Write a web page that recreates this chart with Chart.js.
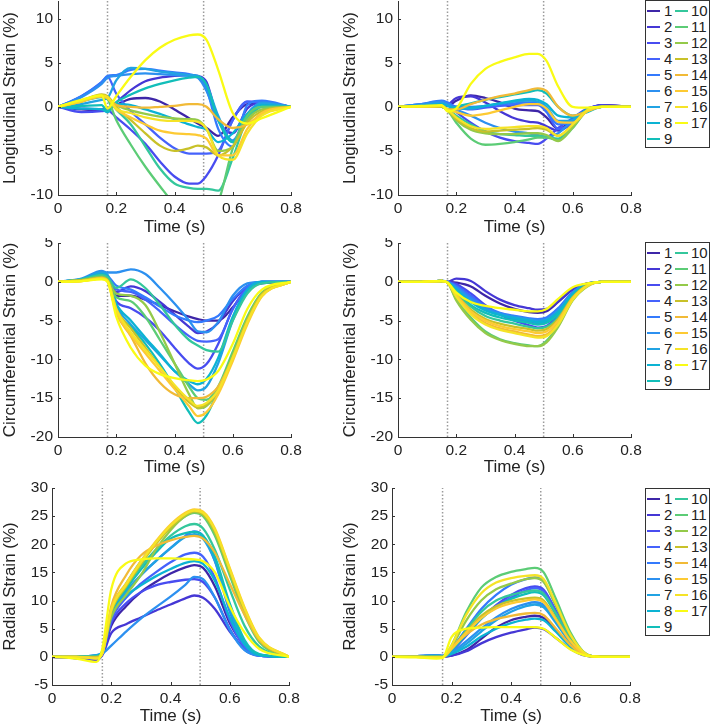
<!DOCTYPE html>
<html>
<head>
<meta charset="utf-8">
<script src="https://cdn.jsdelivr.net/npm/chart.js@4.4.1/dist/chart.umd.min.js"></script>
<style>
  body { margin: 0; background: #fff; width: 710px; height: 727px; position: relative; overflow: hidden;
         font-family: "Liberation Sans", Arial, sans-serif; }
  canvas { position: absolute; }
  .legend { position: absolute; left: 645px; width: 63px; height: 146px; border: 1px solid #333; background: #fff; }
  .legend .sw { position: absolute; width: 13px; height: 2.5px; }
  .legend .lb { position: absolute; font-size: 15px; line-height: 18px; color: #222; }
</style>
</head>
<body>
<script>
// sample times (s)
const times = [0, 0.08, 0.15, 0.17, 0.2, 0.25, 0.3, 0.35, 0.4, 0.45, 0.48, 0.51, 0.55, 0.6, 0.65, 0.7, 0.8];
const eventTimes = [0.17, 0.5];
const segLabels = ['1','2','3','4','5','6','7','8','9','10','11','12','13','14','15','16','17'];

const xTicks = [0, 0.2, 0.4, 0.6, 0.8];
const xTickLabels = ['0', '0.2', '0.4', '0.6', '0.8'];
const longTicks = [-10, -5, 0, 5, 10];
const circTicks = [-20, -15, -10, -5, 0, 5];
const radTicks = [-5, 0, 5, 10, 15, 20, 25, 30];
const longRange = [-10, 12];
const circRange = [-20, 5];
const radRange = [-5, 30];

// longitudinal strain, left case (segments 1..17)
const longA = [
  [0, -0.3, -0.4, -0.3, 0.2, 0.9, 1.0, 0.6, -0.3, -1.3, -1.9, -2.4, -3.3, -1.2, 0.3, 0.4, 0],
  [0, -0.2, -0.3, -0.2, 0.5, 1.9, 2.9, 3.3, 3.5, 3.6, 3.5, 2.8, -1.5, -3.0, -0.2, 0.5, 0],
  [0, -0.6, -0.5, -0.4, -1.2, -2.6, -4.2, -6.2, -7.9, -8.7, -8.7, -7.8, -5.5, -1.5, 0.6, 0.5, 0],
  [0, 1.2, 2.8, 3.4, 1.5, -0.5, -2.0, -3.5, -4.7, -5.3, -5.3, -5.3, -5.0, -1.5, 0.6, 0.5, 0],
  [0, 1.2, 2.8, 3.5, 3.6, 4.2, 4.3, 4.1, 3.9, 3.7, 3.4, 2.0, -2.5, -4.5, 0.2, 0.7, 0],
  [0, 1.1, 2.6, 3.3, 3.5, 3.7, 3.8, 3.7, 3.6, 3.5, 3.3, 1.8, -1.5, -3.8, -0.8, 0.5, 0],
  [0, 0.3, 0.8, 1.0, 3.0, 4.4, 4.3, 4.0, 3.8, 3.6, 3.5, 2.5, -1.0, -4.0, -1.0, 0.4, 0],
  [0, -0.2, -0.3, -0.6, 0.3, 0.2, -0.3, -0.8, -1.4, -2.0, -2.3, -2.6, -4.0, -3.0, -0.8, 0.2, 0],
  [0, 0.1, 0.2, -0.5, 0.5, 1.4, 2.1, 2.6, 3.0, 3.3, 3.4, 2.5, -1.5, -4.0, -1.5, 0, 0],
  [0, 0.6, 1.1, 0.9, -0.3, -2.0, -4.5, -7.0, -8.7, -9.2, -9.3, -9.3, -9.5, -5.8, -1.3, 0, 0],
  [0, 0.6, 1.2, 0.9, -1.5, -4.3, -6.8, -9.0, -11.0, -12.0, -12.0, -11.8, -10.8, -4.7, -1.0, 0, 0],
  [0, 0.7, 1.3, 1.1, 0.2, -0.4, -0.8, -1.1, -1.3, -1.4, -1.5, -2.5, -5.0, -4.5, -1.5, -0.3, 0],
  [0, 0.7, 1.4, 1.2, 0, -1.5, -3.0, -4.4, -5.0, -4.7, -4.4, -4.6, -5.5, -4.5, -1.8, -0.5, 0],
  [0, 0.6, 1.2, 1.0, 0.2, 0, -0.1, 0, 0.1, 0.3, 0.3, 0, -1.4, -2.4, -2.0, -0.8, 0],
  [0, 0.6, 1.2, 1.0, -0.3, -1.2, -2.0, -2.7, -3.0, -3.1, -3.2, -3.6, -5.5, -5.5, -2.5, -0.7, 0],
  [0, 0.7, 1.3, 1.1, -0.2, -0.7, -1.2, -1.5, -1.6, -1.6, -1.7, -2.5, -5.5, -6.0, -3.0, -1.0, 0],
  [0, 0.8, 1.3, -0.2, 1.2, 3.4, 5.3, 6.7, 7.6, 8.1, 8.2, 7.6, 4.2, -0.7, -1.9, -1.3, 0]
];

// longitudinal strain, right case
const longB = [
  [0, 0, 0.1, 0.1, 0.7, 1.3, 1.0, 0.5, -0.2, -0.4, -0.5, -1.2, -2.5, -1.5, -0.3, 0.2, 0],
  [0, 0, 0.1, 0.2, 1.0, 1.2, 0.5, -0.5, -1.3, -1.7, -1.8, -2.2, -2.7, -1.8, -0.3, 0.2, 0],
  [0, 0.1, 0.3, 0.2, -0.6, -1.8, -2.8, -3.5, -3.9, -4.1, -4.2, -3.6, -2.4, -1.3, -0.2, 0.1, 0],
  [0, 0.3, 0.6, 0.4, 0, -0.3, -0.1, 0.1, 0.2, 0.2, 0.2, -0.6, -2.5, -1.8, -0.3, 0.1, 0],
  [0, 0.3, 0.7, 0.5, 0, 0, 0.1, 0.3, 0.4, 0.5, 0.4, -0.5, -2.0, -1.7, -0.3, 0, 0],
  [0, 0.3, 0.6, 0.3, -0.3, -1.0, -1.8, -2.4, -2.8, -3.0, -3.2, -3.4, -3.0, -1.5, -0.3, 0, 0],
  [0, 0.2, 0.4, 0.2, -0.2, -0.2, 0.1, 0.4, 0.6, 0.7, 0.6, 0, -1.6, -1.5, -0.3, 0, 0],
  [0, 0.1, 0.3, 0.1, -0.2, -0.1, 0.1, 0.4, 0.7, 0.9, 0.8, 0.3, -1.0, -1.2, -0.3, 0, 0],
  [0, 0, 0, -0.3, 0, 0.4, 0.8, 1.1, 1.4, 1.7, 1.9, 1.5, 0, -1.0, -0.6, 0, 0],
  [0, 0, 0, -0.3, -1.0, -2.0, -2.8, -3.1, -3.2, -3.3, -3.3, -3.4, -3.6, -2.0, -0.4, 0, 0],
  [0, 0, 0, -0.4, -1.8, -3.6, -4.3, -4.2, -4.0, -3.7, -3.5, -3.5, -3.8, -2.4, -0.4, 0, 0],
  [0, 0, 0, -0.4, -1.5, -2.6, -3.0, -3.1, -3.1, -3.0, -3.0, -3.2, -3.9, -2.3, -0.4, 0, 0],
  [0, 0, 0, -0.4, -1.4, -2.4, -2.8, -2.7, -2.6, -2.5, -2.4, -2.6, -3.3, -2.0, -0.4, 0, 0],
  [0, 0, 0.1, -0.3, -0.3, 0.3, 0.8, 1.2, 1.5, 1.9, 2.1, 1.8, 0, -1.0, -0.5, 0, 0],
  [0, 0, 0.1, -0.3, -0.6, -1.0, -0.8, -0.4, 0, 0.3, 0.3, -0.2, -1.7, -1.8, -0.5, 0, 0],
  [0, 0, 0.1, -0.3, -1.2, -2.2, -2.5, -2.4, -2.3, -2.2, -2.2, -2.4, -3.3, -2.0, -0.4, 0, 0],
  [0, 0.1, 0.2, -0.5, -0.2, 2.6, 4.3, 5.1, 5.6, 6.0, 6.0, 5.2, 2.3, 0, -0.1, 0, 0]
];

// circumferential strain, left case
const circA = [
  [0, 0.2, 0.6, 0.3, -1.8, -1.8, -2.3, -3.0, -3.8, -4.5, -4.8, -5.0, -5.0, -3.3, -1.0, -0.2, 0],
  [0, 0.2, 0.7, 0.4, -1.3, -0.6, -1.2, -2.6, -4.2, -5.8, -6.6, -6.4, -5.3, -2.5, -0.6, 0, 0],
  [0, 0.2, 0.6, 0.2, -2.5, -3.4, -4.6, -6.3, -8.5, -10.5, -11.2, -10.6, -8.0, -3.5, -0.8, 0, 0],
  [0, 0.3, 0.8, 0.4, -1.0, -1.3, -2.3, -3.8, -5.5, -7.0, -7.6, -7.7, -7.4, -3.5, -0.8, 0, 0],
  [0, 0.3, 1.0, 0.8, -0.5, -1.0, -2.0, -3.2, -4.3, -5.0, -5.2, -5.0, -4.4, -2.2, -0.5, 0, 0],
  [0, 0.4, 1.4, 1.2, 1.2, 1.6, 1.0, -0.8, -2.8, -5.0, -6.4, -6.5, -5.2, -1.8, -0.2, 0, 0],
  [0, 0.3, 1.2, 0.9, -3.0, -5.5, -7.5, -9.5, -11.5, -13.2, -14.0, -13.5, -10.5, -5.0, -1.2, 0, 0],
  [0, 0.3, 1.0, 0.7, -2.8, -5.0, -7.2, -9.3, -11.5, -12.8, -13.2, -12.5, -9.8, -4.5, -1.0, 0, 0],
  [0, 0.2, 0.8, 0.4, -3.8, -5.8, -8.0, -10.6, -13.6, -16.8, -18.2, -17.2, -14.0, -9.5, -4.8, -1.6, 0],
  [0, 0.3, 0.9, 0.6, -0.8, 0.3, -0.8, -3.0, -5.5, -7.5, -8.2, -8.8, -9.0, -5.0, -1.5, -0.2, 0],
  [0, 0.2, 0.7, 0.3, -2.0, -2.5, -4.5, -7.5, -10.5, -13.5, -15.0, -15.2, -13.5, -9.0, -4.5, -1.4, 0],
  [0, 0.2, 0.6, 0.2, -1.5, -1.8, -3.0, -6.5, -10.5, -14.5, -16.3, -16.0, -14.0, -9.5, -4.8, -1.5, 0],
  [0, 0.2, 0.5, 0.2, -3.5, -6.0, -8.5, -11.0, -13.5, -15.5, -16.2, -15.8, -14.0, -9.8, -5.0, -1.6, 0],
  [0, 0.1, 0.5, 0.1, -4.0, -7.0, -10.5, -13.0, -14.5, -15.0, -15.0, -14.8, -13.5, -9.8, -5.2, -1.8, 0],
  [0, 0.1, 0.4, 0.1, -3.8, -6.8, -9.2, -11.5, -13.8, -16.0, -17.3, -16.8, -14.5, -10.2, -5.5, -1.9, 0],
  [0, 0.1, 0.4, 0.1, -3.5, -6.5, -8.8, -11.0, -13.3, -15.2, -16.0, -15.6, -14.0, -9.8, -5.2, -1.8, 0],
  [0, 0.1, 0.3, 0, -4.5, -8.5, -10.8, -11.9, -12.4, -12.7, -12.8, -12.6, -11.5, -8.0, -3.5, -1.0, 0]
];

// circumferential strain, right case
const circB = [
  [0, 0, 0.1, 0, -0.1, -0.6, -1.8, -2.8, -3.5, -3.9, -4.0, -3.8, -2.6, -1.0, -0.2, 0, 0],
  [0, 0, 0.1, 0, 0.4, 0.1, -1.2, -2.3, -3.0, -3.4, -3.6, -3.5, -2.5, -0.9, -0.2, 0, 0],
  [0, 0, 0.1, 0, -0.3, -1.5, -3.0, -4.2, -5.0, -5.6, -5.9, -5.7, -4.2, -1.6, -0.3, 0, 0],
  [0, 0, 0.1, 0, -0.5, -1.8, -3.2, -4.2, -4.8, -5.2, -5.4, -5.2, -3.8, -1.4, -0.3, 0, 0],
  [0, 0, 0.1, 0, -0.6, -2.0, -3.2, -4.0, -4.4, -4.7, -4.8, -4.6, -3.4, -1.3, -0.3, 0, 0],
  [0, 0, 0.1, 0, -0.7, -2.2, -3.4, -4.1, -4.5, -4.8, -5.0, -4.8, -3.6, -1.4, -0.3, 0, 0],
  [0, 0, 0.1, -0.1, -0.9, -2.5, -3.6, -4.2, -4.6, -4.9, -5.1, -4.9, -3.8, -1.5, -0.3, 0, 0],
  [0, 0, 0.1, -0.1, -1.0, -2.6, -3.7, -4.3, -4.7, -5.0, -5.2, -5.0, -3.9, -1.6, -0.3, 0, 0],
  [0, 0, 0.1, -0.1, -1.2, -3.0, -4.0, -4.6, -5.0, -5.3, -5.5, -5.3, -4.2, -1.8, -0.4, 0, 0],
  [0, 0, 0.1, -0.1, -1.3, -3.2, -4.4, -5.0, -5.4, -5.8, -6.0, -5.8, -4.6, -2.0, -0.4, 0, 0],
  [0, 0, 0.1, -0.1, -2.2, -4.6, -6.4, -7.4, -7.9, -8.2, -8.3, -7.6, -5.6, -2.2, -0.5, 0, 0],
  [0, 0, 0.1, -0.1, -2.4, -4.9, -6.6, -7.5, -8.0, -8.3, -8.3, -7.8, -5.8, -2.4, -0.6, 0, 0],
  [0, 0, 0.1, -0.1, -1.6, -3.6, -4.8, -5.4, -5.8, -6.1, -6.3, -6.1, -4.8, -2.0, -0.4, 0, 0],
  [0, 0, 0.1, -0.1, -1.8, -4.0, -5.3, -6.0, -6.4, -6.8, -7.0, -6.8, -5.3, -2.2, -0.5, 0, 0],
  [0, 0, 0.1, -0.1, -1.7, -3.8, -5.0, -5.7, -6.1, -6.4, -6.6, -6.4, -5.0, -2.1, -0.5, 0, 0],
  [0, 0, 0.1, -0.1, -1.9, -4.2, -5.5, -6.2, -6.6, -7.0, -7.2, -7.0, -5.5, -2.3, -0.5, 0, 0],
  [0, 0, 0.1, -0.1, -1.4, -2.6, -3.1, -3.4, -3.6, -3.8, -3.8, -3.5, -2.2, -0.7, -0.2, 0, 0]
];

// radial strain, left case
const radA = [
  [0, -0.2, -0.5, 0.5, 5.5, 9.0, 11.5, 13.3, 14.8, 15.9, 16.3, 15.8, 12.5, 6.0, 2.0, 0.3, 0],
  [0, -0.2, -0.5, 0.3, 4.2, 5.8, 7.0, 8.2, 9.3, 10.4, 10.9, 10.5, 8.5, 4.5, 1.5, 0.2, 0],
  [0, -0.2, -0.4, 0.5, 6.0, 9.5, 11.5, 12.7, 13.3, 13.7, 13.8, 13.3, 10.5, 5.0, 1.3, 0.2, 0],
  [0, -0.1, -0.3, 0.6, 6.5, 10.5, 13.0, 15.0, 16.8, 18.2, 18.5, 17.8, 14.0, 6.5, 1.8, 0.2, 0],
  [0, 0, 0.1, 0.8, 7.0, 11.5, 14.5, 17.0, 19.3, 21.5, 22.3, 21.5, 17.0, 8.0, 2.2, 0.3, 0],
  [0, 0, 0.3, 0.6, 2.0, 4.5, 6.8, 8.8, 10.7, 12.8, 14.2, 13.8, 10.5, 4.8, 1.2, 0.2, 0],
  [0, 0, 0.3, 0.9, 7.5, 11.5, 14.5, 17.0, 19.3, 21.3, 21.8, 21.0, 17.0, 8.5, 2.5, 0.4, 0],
  [0, 0, 0.2, 0.9, 7.5, 10.8, 12.7, 14.3, 15.6, 16.7, 17.0, 16.5, 13.5, 7.0, 2.2, 0.3, 0],
  [0, 0, 0.1, 1.0, 8.0, 12.0, 15.5, 18.5, 21.0, 22.0, 22.2, 21.5, 17.8, 9.5, 3.0, 0.5, 0],
  [0, 0, 0, 1.0, 8.0, 12.5, 16.0, 19.0, 21.5, 23.2, 23.6, 22.8, 19.0, 12.0, 5.5, 1.8, 0],
  [0, 0, 0, 1.0, 8.5, 13.0, 17.0, 20.3, 23.0, 25.0, 25.6, 25.0, 21.5, 14.5, 7.5, 2.6, 0],
  [0, 0, 0, 0.8, 7.0, 11.0, 14.5, 19.0, 22.5, 25.0, 25.7, 25.2, 22.0, 15.0, 8.0, 2.9, 0],
  [0, 0, -0.1, 0.7, 8.0, 12.5, 16.5, 20.0, 23.0, 25.2, 25.9, 25.4, 22.3, 15.3, 8.3, 3.0, 0],
  [0, 0, -0.2, 0.7, 9.0, 14.5, 18.0, 19.7, 20.7, 21.3, 21.5, 21.0, 18.5, 13.0, 7.5, 3.0, 0],
  [0, 0, -0.2, 0.7, 8.5, 13.0, 17.0, 20.5, 23.5, 25.6, 26.2, 25.8, 22.8, 15.8, 8.8, 3.4, 0],
  [0, 0, -0.3, 0.6, 8.3, 12.8, 16.8, 20.3, 23.3, 25.4, 26.0, 25.6, 22.6, 15.6, 8.6, 3.3, 0],
  [0, -0.3, -0.9, 1.5, 12.0, 16.6, 17.3, 17.5, 17.5, 17.4, 17.3, 17.0, 15.0, 9.0, 4.3, 1.4, 0]
];

// radial strain, right case
const radB = [
  [0, 0, 0.1, 0, 0.2, 1.2, 3.2, 5.2, 6.5, 7.1, 7.3, 6.9, 4.8, 2.0, 0.3, 0, 0],
  [0, 0, 0.1, 0, 0.2, 1.0, 2.4, 3.5, 4.3, 4.9, 5.2, 4.9, 3.4, 1.4, 0.2, 0, 0],
  [0, 0.1, 0.2, 0.1, 1.0, 3.8, 6.8, 9.2, 11.0, 12.2, 12.5, 11.9, 8.3, 3.4, 0.5, 0, 0],
  [0, 0.1, 0.2, 0.1, 1.2, 4.0, 7.0, 9.0, 10.5, 11.8, 12.2, 11.6, 8.1, 3.3, 0.5, 0, 0],
  [0, 0.1, 0.3, 0.2, 1.5, 5.0, 8.5, 11.0, 12.8, 13.8, 14.1, 13.4, 9.3, 3.8, 0.6, 0, 0],
  [0, 0.1, 0.3, 0.2, 0.8, 2.8, 5.0, 7.0, 8.5, 9.4, 9.7, 9.2, 6.4, 2.6, 0.4, 0, 0],
  [0, 0.1, 0.2, 0.1, 0.6, 2.3, 4.5, 6.5, 8.0, 9.0, 9.3, 8.8, 6.1, 2.5, 0.4, 0, 0],
  [0, 0, 0.1, 0, 0.5, 1.8, 3.6, 5.0, 6.0, 6.6, 6.8, 6.5, 4.5, 1.8, 0.3, 0, 0],
  [0, 0, 0.1, 0, 1.2, 4.0, 6.8, 8.8, 10.3, 11.2, 11.5, 10.9, 7.6, 3.1, 0.5, 0, 0],
  [0, 0, 0, 0, 1.3, 4.8, 8.0, 10.0, 11.0, 11.6, 11.8, 11.2, 7.8, 3.2, 0.5, 0, 0],
  [0, 0, 0, 0, 2.0, 8.0, 12.3, 14.2, 15.1, 15.6, 15.8, 15.0, 10.4, 4.3, 0.6, 0, 0],
  [0, 0, 0, 0, 1.8, 6.5, 10.0, 12.0, 13.0, 13.8, 14.0, 13.3, 9.2, 3.8, 0.6, 0, 0],
  [0, 0, 0, 0, 1.5, 4.5, 7.3, 9.0, 9.9, 10.4, 10.5, 10.0, 6.9, 2.8, 0.4, 0, 0],
  [0, 0, -0.1, -0.1, 1.6, 4.0, 5.7, 6.7, 7.3, 7.7, 7.8, 7.4, 5.1, 2.1, 0.3, 0, 0],
  [0, 0, -0.1, -0.1, 1.4, 4.3, 6.9, 8.6, 9.5, 10.0, 10.2, 9.7, 6.7, 2.8, 0.4, 0, 0],
  [0, 0, -0.1, -0.1, 2.0, 7.5, 11.3, 13.2, 14.0, 14.4, 14.5, 13.8, 9.6, 3.9, 0.6, 0, 0],
  [0, -0.1, -0.3, -0.2, 3.5, 5.0, 5.2, 5.3, 5.3, 5.3, 5.3, 5.0, 3.4, 1.3, 0.2, 0, 0]
];

// parula(17)
const segColors = ['#3e26a8', '#4537d5', '#484cf0', '#4562fc', '#347afd', '#2c90f0', '#21a3e3', '#0cb3d3',
  '#12beb9', '#34c79c', '#5ccc76', '#94ca4a', '#c8c129', '#f1ba37', '#fdca33', '#f5e327', '#f9fb15'];

const FONT = "'Liberation Sans', Arial, Helvetica, sans-serif";
const TXT = '#222';
const AXIS = '#333';
Chart.defaults.font.family = FONT;

const innerTicks = {
  id: 'innerTicks',
  afterDraw(chart) {
    const { ctx, chartArea: a, scales: { x, y } } = chart;
    ctx.save();
    ctx.strokeStyle = AXIS;
    ctx.lineWidth = 1;
    ctx.beginPath();
    x.ticks.forEach(t => {
      const px = Math.round(x.getPixelForValue(t.value)) + 0.5;
      ctx.moveTo(px, a.bottom);
      ctx.lineTo(px, a.bottom - 3);
    });
    y.ticks.forEach(t => {
      const py = Math.round(y.getPixelForValue(t.value)) + 0.5;
      ctx.moveTo(a.left, py);
      ctx.lineTo(a.left + 3, py);
    });
    ctx.stroke();
    ctx.restore();
  }
};

function buildDatasets(series, range) {
  const sets = series.map((vals, i) => ({
    label: segLabels[i],
    data: vals.map((v, k) => ({ x: times[k], y: v })),
    borderColor: segColors[i],
    borderWidth: 2.3,
    pointRadius: 0,
    cubicInterpolationMode: 'monotone',
    order: -i
  }));
  eventTimes.forEach(t => sets.push({
    data: [{ x: t, y: range[0] }, { x: t, y: range[1] }],
    borderColor: '#9b9b9b',
    borderWidth: 1.5,
    borderDash: [1.5, 2],
    pointRadius: 0,
    order: 10
  }));
  return sets;
}

// left column canvases 0..330, right column 340..645
const panels = [
  { series: longA, range: longRange, yTicks: longTicks, title: 'Longitudinal Strain (%)', left: 0, top: 0, w: 330, h: 238, yW: 58, xH: 43, padTop: 1, padRight: 39, tickPad: 5 },
  { series: longB, range: longRange, yTicks: longTicks, title: 'Longitudinal Strain (%)', left: 340, top: 0, w: 305, h: 238, yW: 58, xH: 43, padTop: 1, padRight: 14, tickPad: 5 },
  { series: circA, range: circRange, yTicks: circTicks, title: 'Circumferential Strain (%)', left: 0, top: 238, w: 330, h: 240, yW: 58, xH: 41, padTop: 5, padRight: 39, tickPad: 5 },
  { series: circB, range: circRange, yTicks: circTicks, title: 'Circumferential Strain (%)', left: 340, top: 238, w: 305, h: 240, yW: 58, xH: 41, padTop: 5, padRight: 14, tickPad: 5 },
  { series: radA, range: radRange, yTicks: radTicks, title: 'Radial Strain (%)', left: 0, top: 478, w: 330, h: 249, yW: 52, xH: 42, padTop: 10, padRight: 41, tickPad: 4 },
  { series: radB, range: radRange, yTicks: radTicks, title: 'Radial Strain (%)', left: 340, top: 478, w: 305, h: 249, yW: 52, xH: 42, padTop: 10, padRight: 15, tickPad: 4 }
];

panels.forEach(p => {
  const cv = document.createElement('canvas');
  cv.width = p.w; cv.height = p.h;
  cv.style.left = p.left + 'px'; cv.style.top = p.top + 'px';
  document.body.appendChild(cv);

  new Chart(cv.getContext('2d'), {
    type: 'line',
    data: { datasets: buildDatasets(p.series, p.range) },
    plugins: [innerTicks],
    options: {
      responsive: false,
      animation: false,
      layout: { padding: { top: p.padTop, right: p.padRight, left: 0, bottom: 0 } },
      plugins: { legend: { display: false }, tooltip: { enabled: false } },
      scales: {
        x: {
          type: 'linear', min: 0, max: 0.8,
          afterBuildTicks: s => { s.ticks = xTicks.map(v => ({ value: v })); },
          afterFit: s => { s.height = p.xH; s.paddingLeft = 0; s.paddingRight = 0; },
          ticks: { autoSkip: false, maxRotation: 0, padding: 4, color: TXT, font: { size: 15.5 },
                   callback: (v, i) => xTickLabels[i] },
          grid: { display: false, drawTicks: false },
          border: { display: true, color: AXIS, width: 1 },
          title: { display: true, text: 'Time (s)', color: TXT, font: { size: 17 }, padding: 0 }
        },
        y: {
          type: 'linear', min: p.range[0], max: p.range[1],
          afterBuildTicks: s => { s.ticks = p.yTicks.map(v => ({ value: v })); },
          afterFit: s => { s.width = p.yW; s.paddingTop = 0; s.paddingBottom = 0; },
          ticks: { autoSkip: false, padding: p.tickPad, color: TXT, font: { size: 15.5 },
                   callback: v => String(v) },
          grid: { display: false, drawTicks: false },
          border: { display: true, color: AXIS, width: 1 },
          title: { display: true, text: p.title, color: TXT, font: { size: 17 }, padding: 0 }
        }
      }
    }
  });
});

// legends (one per row, right side)
[0, 242, 488].forEach(top => {
  const box = document.createElement('div');
  box.className = 'legend';
  box.style.top = top + 'px';
  segLabels.forEach((lab, i) => {
    const col = i < 9 ? 0 : 1;
    const row = i < 9 ? i : i - 9;
    const cy = 10 + row * 16;
    const sw = document.createElement('div');
    sw.className = 'sw';
    sw.style.left = (col ? 29 : 1) + 'px';
    sw.style.top = (cy - 1.5) + 'px';
    sw.style.background = segColors[i];
    const lb = document.createElement('div');
    lb.className = 'lb';
    lb.style.left = (col ? 45 : 18) + 'px';
    lb.style.top = (cy - 9) + 'px';
    lb.textContent = lab;
    box.appendChild(sw);
    box.appendChild(lb);
  });
  document.body.appendChild(box);
});
</script>
</body>
</html>
